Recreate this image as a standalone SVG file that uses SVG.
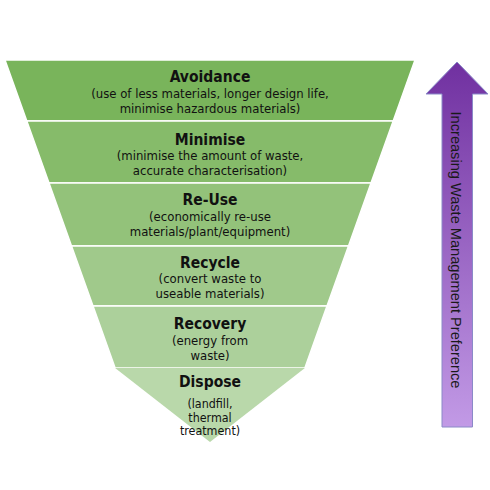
<svg xmlns="http://www.w3.org/2000/svg" width="490" height="490" viewBox="0 0 490 490">
<defs>
<linearGradient id="arrowGrad" x1="0" y1="0" x2="0" y2="1">
<stop offset="0" stop-color="#7030a0"/>
<stop offset="1" stop-color="#c29ae6"/>
</linearGradient>
</defs>
<style>
.band{stroke:#ffffff;stroke-width:1.5}
.title{font-family:"DejaVu Sans Condensed","DejaVu Sans",sans-serif;font-weight:bold;font-size:15.5px;fill:#111;text-anchor:middle}
.sub{font-family:"DejaVu Sans Condensed","DejaVu Sans",sans-serif;font-size:13px;fill:#111;text-anchor:middle}
.small{font-size:12.4px}
.arrowtext{font-family:"Liberation Sans",Arial,sans-serif;font-size:14.6px;fill:#1a1a1a;text-anchor:middle}
</style>
<rect width="490" height="490" fill="#ffffff"/>
<g id="avoidance">
<polygon class="band" points="5,60 415,60 393.2,121 26.8,121" fill="#79b45b"/>
<text class="title" x="210" y="82">Avoidance</text>
<text class="sub" x="210" y="98">(use of less materials, longer design life,</text>
<text class="sub" x="210" y="113">minimise hazardous materials)</text>
</g>
<g id="minimise">
<polygon class="band" points="26.8,121 393.2,121 371,183 49,183" fill="#86bb6a"/>
<text class="title" x="210" y="145">Minimise</text>
<text class="sub" x="210" y="160">(minimise the amount of waste,</text>
<text class="sub" x="210" y="175">accurate characterisation)</text>
</g>
<g id="reuse">
<polygon class="band" points="49,183 371,183 348.5,246 71.5,246" fill="#93c27a"/>
<text class="title" x="210" y="205">Re-Use</text>
<text class="sub" x="210" y="221">(economically re-use</text>
<text class="sub" x="210" y="236">materials/plant/equipment)</text>
</g>
<g id="recycle">
<polygon class="band" points="71.5,246 348.5,246 327,306 93,306" fill="#a0c98b"/>
<text class="title" x="210" y="268">Recycle</text>
<text class="sub" x="210" y="283">(convert waste to</text>
<text class="sub" x="210" y="298">useable materials)</text>
</g>
<g id="recovery">
<polygon class="band" points="93,306 327,306 304.9,368 115.1,368" fill="#acd09b"/>
<text class="title" x="210" y="329">Recovery</text>
<text class="sub" x="210" y="345">(energy from</text>
<text class="sub" x="210" y="360">waste)</text>
</g>
<g id="dispose">
<polygon points="115.1,368 304.9,368 210,442" fill="#b9d8aa"/>
<text class="title" x="210" y="387">Dispose</text>
<text class="sub small" x="210" y="408">(landfill,</text>
<text class="sub small" x="210" y="421.5">thermal</text>
<text class="sub small" x="210" y="435">treatment)</text>
</g>
<g id="preference-arrow">
<polygon points="457,62 488,94 472.5,94 472.5,427 442,427 442,94 426,94" fill="url(#arrowGrad)" stroke="#8a8ac8" stroke-width="1"/>
<text class="arrowtext" transform="translate(451,250) rotate(90)">Increasing Waste Management Preference</text>
</g>
</svg>
